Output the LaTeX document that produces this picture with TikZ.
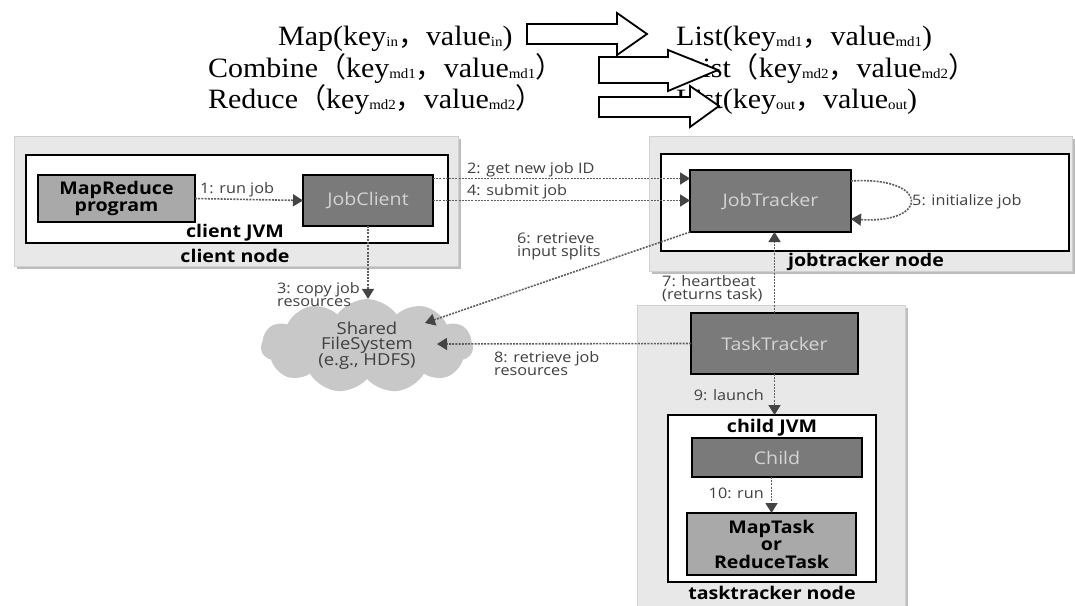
\documentclass[tikz,border=0pt]{standalone}
\usepackage{fontspec}
\usetikzlibrary{arrows.meta,shapes.symbols,shadows,calc}
\newfontfamily\simlat[FakeStretch=1.07]{Liberation Serif}
\newfontfamily\cjkf{Noto Sans CJK SC}
\newfontfamily\labf[FakeStretch=1.12]{Open Sans}
\definecolor{outerfill}{HTML}{E8E8E8}
\definecolor{outeredge}{HTML}{D0D0D0}
\definecolor{shadowc}{HTML}{BDBDBD}
\definecolor{darkfill}{HTML}{7A7A7A}
\definecolor{midfill}{HTML}{A9A9A9}
\definecolor{intext}{HTML}{D4D4D4}
\definecolor{labc}{HTML}{404040}
\definecolor{connc}{HTML}{5E5E5E}
\definecolor{tipc}{HTML}{444444}
\definecolor{cloudc}{HTML}{C8C8C8}
\newcommand\topfont{\simlat\fontsize{28}{28}\selectfont}
\newcommand\sbx[1]{\raisebox{-1pt}{\simlat\fontsize{14}{14}\selectfont #1}}
\newcommand\fw[1]{{\cjkf\fontsize{28}{28}\selectfont #1}}
\begin{document}
\begin{tikzpicture}[x=1pt,y=-1pt,
  toptext/.style={anchor=base west, inner sep=0, font=\topfont},
  blockarr/.style={draw=black, fill=white, line width=1.8pt, line join=miter},
  outer/.style={fill=outerfill, draw=outeredge, line width=0.8pt, inner sep=0, outer sep=0,
     drop shadow={shadow xshift=3pt, shadow yshift=-3pt, fill=shadowc, opacity=1}},
  whitebox/.style={draw=black, fill=white, line width=1.8pt, inner sep=0, outer sep=0},
  dbox/.style={draw=black, fill=darkfill, line width=1.6pt, text=intext, inner sep=0, outer sep=0,
     font=\labf\fontsize{17.5}{18}\selectfont},
  mbox/.style={draw=black, fill=midfill, line width=1.6pt, inner sep=0, outer sep=0, align=center,
     font=\labf\bfseries\fontsize{17.5}{17.5}\selectfont},
  blab/.style={inner sep=0, font=\labf\bfseries\fontsize{17.5}{18}\selectfont},
  lab/.style={inner sep=0, text=labc, font=\labf\fontsize{14.5}{13}\selectfont},
  conn/.style={draw=connc, line width=1.6pt, dash pattern=on 2pt off 1.2pt,
     -{Triangle[width=12pt,length=10pt,fill=tipc,color=tipc]}}
]
\useasboundingbox (0,0) rectangle (1075,605);
\fill[white] (0,0) rectangle (1075,605);

% ---- top formulas
\node[toptext] (l1) at (278,45) {Map(key\sbx{in}\fw{，}value\sbx{in})};
\node[toptext] (l2) at (208,77) {Combine\fw{（}key\sbx{md1}\fw{，}value\sbx{md1}\fw{）}};
\node[toptext] (l3) at (208,108) {Reduce\fw{（}key\sbx{md2}\fw{，}value\sbx{md2}\fw{）}};
\node[toptext] (r1) at (676,45) {List(key\sbx{md1}\fw{，}value\sbx{md1})};
\node[toptext] (r2) at (684,77) {List\fw{（}key\sbx{md2}\fw{，}value\sbx{md2}\fw{）}};
\node[toptext] (r3) at (676,108) {List(key\sbx{out}\fw{，}value\sbx{out})};

\draw[blockarr] (527,24) -- (617,24) -- (617,13) -- (647,34) -- (617,55) -- (617,44) -- (527,44) -- cycle;
\draw[blockarr] (599,57) -- (668,57) -- (668,50) -- (718,70) -- (668,91) -- (668,83) -- (599,83) -- cycle;
\draw[blockarr] (599,97) -- (690,97) -- (690,86) -- (719,106) -- (690,127) -- (690,117) -- (599,117) -- cycle;

% ---- containers
\node[outer, minimum width=444pt, minimum height=130pt] (cn) at (236,201) {};
\node[outer, minimum width=423pt, minimum height=135pt] (jn) at (860.5,203.5) {};
\node[outer, minimum width=268pt, minimum height=310pt] (tn) at (771,460) {};

\node[whitebox, minimum width=422pt, minimum height=88pt] (cjvm) at (237,199) {};
\node[whitebox, minimum width=408pt, minimum height=97pt] (jw) at (865,202.5) {};
\node[whitebox, minimum width=208pt, minimum height=167pt] (chjvm) at (772,498.5) {};

% ---- boxes
\node[mbox, minimum width=157pt, minimum height=47pt] (mr) at (116.5,198.5) {MapReduce\\program};
\node[dbox, minimum width=130pt, minimum height=51pt] (jc) at (368,200.5) {JobClient};
\node[dbox, minimum width=161pt, minimum height=62pt] (jt) at (770.5,201) {JobTracker};
\node[dbox, minimum width=167pt, minimum height=61pt] (tt) at (774.5,343.5) {TaskTracker};
\node[dbox, minimum width=170pt, minimum height=39pt] (ch) at (777,457.5) {Child};
\node[mbox, minimum width=169pt, minimum height=62pt] (mt) at (771.5,544) {MapTask\\or\\ReduceTask};

\node[blab] (cjvmt) at (235,233) {client JVM};
\node[blab] (cnt) at (235,256) {client node};
\node[blab] (jnt) at (866,262) {jobtracker node};
\node[blab] (chjvmt) at (772,428) {child JVM};
\node[blab] (tnt) at (772,593) {tasktracker node};

% ---- shared file system
\node[cloud, cloud puffs=11, cloud puff arc=110, aspect=2.9, fill=cloudc, draw=none,
      minimum width=212pt, minimum height=72pt, inner sep=0, align=center, text=black!75,
      font=\labf\fontsize{16.5}{14.5}\selectfont] (fs) at (367,346) {Shared\\FileSystem\\(e.g., HDFS)};
\coordinate (c6) at (425,323);
\coordinate (c8) at (437,344);

% ---- connectors
\draw[conn] (mr.east) -- (jc.west);
\draw[conn] ([yshift=22pt]jc.east) -- ([yshift=22pt]jc.east -| jt.west);
\draw[conn] (jc.east) -- (jc.east -| jt.west);
\draw[conn] (jc.south) -- (jc.south |- fs.north);
\draw[conn] (jt.south west) -- (c6);
\draw[conn] ([yshift=20pt]jt.east) .. controls (930,176) and (930,224) .. ([yshift=-18pt]jt.east);
\draw[conn] (tt.north) -- (tt.north |- jt.south);
\draw[conn] (tt.west) -- (c8);
\draw[conn] (tt.south) -- (tt.south |- chjvm.north);
\draw[conn] (mt.north |- ch.south) -- (mt.north);

% ---- labels
\node[lab, anchor=west] (t1) at (200,190) {1: run job};
\node[lab, anchor=west] (t2) at (467,170) {2: get new job ID};
\node[lab, anchor=west] (t4) at (467,192) {4: submit job};
\node[lab, anchor=north west, align=left] (t3) at (277,282) {3: copy job\\resources};
\node[lab, anchor=north west, align=left] (t6) at (517,233) {6: retrieve\\input splits};
\node[lab, anchor=west] (t5) at (912,202) {5: initialize job};
\node[lab, anchor=north west, align=left] (t7) at (662,275) {7: heartbeat\\(returns task)};
\node[lab, anchor=north west, align=left] (t8) at (494,351) {8: retrieve job\\resources};
\node[lab, anchor=east] (t9) at (764,395) {9: launch};
\node[lab, anchor=east] (t10) at (764,493) {10: run};
\end{tikzpicture}
\end{document}
